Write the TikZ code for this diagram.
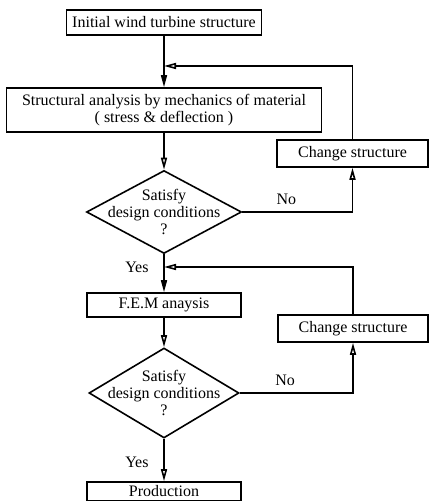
\documentclass[tikz,border=0pt]{standalone}
\usepackage{fontspec}
\setmainfont{Liberation Serif}
\usetikzlibrary{arrows.meta,shapes.geometric}

\begin{document}
\begin{tikzpicture}[x=0.5pt,y=-0.5pt,
        font=\fontsize{8}{8.5}\selectfont,
        box/.style={draw, line width=0.8pt, inner sep=0pt, align=center},
        cond/.style={draw, diamond, line width=0.8pt, inner sep=0pt},
        flow/.style={line width=0.8pt, -{Triangle[length=6pt,width=3pt]}},
        back/.style={line width=0.8pt, -{Triangle[open,length=6pt,width=3pt]}}]
    \useasboundingbox (0,0) rectangle (429,501);
    \node[box, minimum width=97.5pt, minimum height=12.5pt] (init) at (164,22.5) {Initial wind turbine structure};
    \node[box, minimum width=157.5pt, minimum height=22pt] (anal) at (164,110) {Structural analysis by mechanics of material\\( stress \& deflection )};
    \node[box, minimum width=75.5pt, minimum height=13.5pt] (chg1) at (352.5,153.5) {Change structure};
    \node[cond, minimum width=77.5pt, minimum height=41.5pt] (cond1) at (164,212) {};
    \node[align=center] (q1) at (cond1) {Satisfy\\design conditions\\?};
    \node[box, minimum width=77pt, minimum height=12pt] (fem) at (164,305) {F.E.M anaysis};
    \node[box, minimum width=75pt, minimum height=13.5pt] (chg2) at (353,328.5) {Change structure};
    \node[cond, minimum width=75pt, minimum height=45pt] (cond2) at (164,393) {};
    \node[align=center] (q2) at (cond2) {Satisfy\\design conditions\\?};
    \node[box, minimum width=77pt, minimum height=9.5pt] (prod) at (164,491.5) {Production};
    \coordinate (j1) at (164,66);
    \coordinate (j2) at (164,267);
    \draw[flow] (init) -- (anal);
    \draw[back] (chg1.north) |- (j1);
    \draw[back] (anal) -- (cond1);
    \draw[back] (cond1.east) -| node[pos=0.2, above] {No} (chg1.south);
    \draw[flow] (cond1) -- node[left=4pt, pos=0.35] {Yes} (fem);
    \draw[back] (chg2.north) |- (j2);
    \draw[back] (fem) -- (cond2);
    \draw[back] (cond2.east) -| node[pos=0.2, above] {No} (chg2.south);
    \draw[back] (cond2) -- node[left=4pt, pos=0.55] {Yes} (prod);
\end{tikzpicture}
\end{document}
